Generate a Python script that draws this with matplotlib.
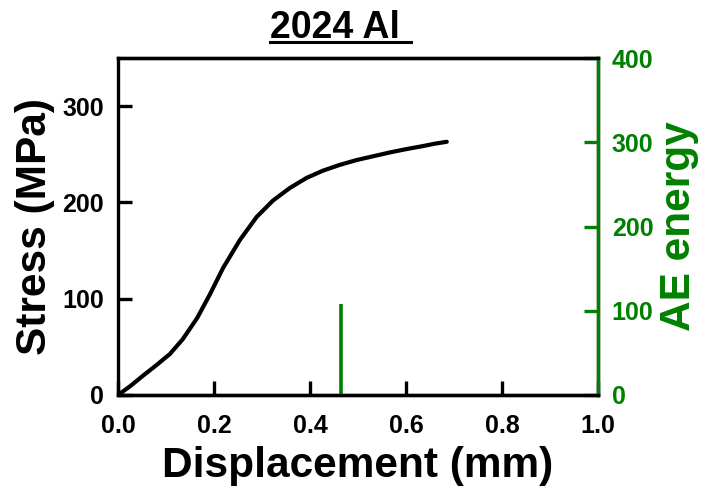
import matplotlib
matplotlib.use("Agg")
import matplotlib.pyplot as plt
from matplotlib.lines import Line2D

plt.rcParams['font.family'] = ['Liberation Sans', 'DejaVu Sans']
plt.rcParams['font.weight'] = 'bold'

# Stress-displacement curve (mm, MPa)
displacement = [0.0, 0.025, 0.052, 0.08, 0.108, 0.135, 0.165, 0.192, 0.219, 0.254,
                0.289, 0.323, 0.358, 0.393, 0.427, 0.462, 0.497, 0.532, 0.567,
                0.602, 0.636, 0.66, 0.685]
stress = [0.0, 9, 20, 31, 42.5, 58, 80, 105, 132, 161,
          185, 202, 215, 225.5, 233, 239, 244, 248, 252,
          255.5, 258.6, 261, 263]

# Acoustic emission event
ae_position = [0.465]
ae_energy = [108]

title_text = "2024 Al"
green = "#008000"

fig = plt.figure(figsize=(7.04, 4.9), dpi=100)
ax = fig.add_axes([0.1676, 0.1939, 0.6818, 0.6877])

ax.plot(displacement, stress, color='black', lw=3.0,
        solid_capstyle='round', solid_joinstyle='round')
ax.set_xlim(0, 1.0)
ax.set_ylim(0, 350)
ax.set_xticks([0.0, 0.2, 0.4, 0.6, 0.8, 1.0])
ax.set_xticklabels(["0.0", "0.2", "0.4", "0.6", "0.8", "1.0"])
ax.set_yticks([0, 100, 200, 300])

ax2 = ax.twinx()
ax2.vlines(ae_position, 0, ae_energy, color=green, lw=2.6)
ax2.set_ylim(0, 400)
ax2.set_yticks([0, 100, 200, 300, 400])

for a in (ax, ax2):
    for s in a.spines.values():
        s.set_linewidth(2.4)
ax2.spines['right'].set_color(green)
ax2.spines['left'].set_visible(False)
ax2.spines['top'].set_color('black')
ax2.spines['bottom'].set_color('black')

ax.tick_params(axis='both', direction='in', length=10, width=2.4, labelsize=18)
ax.tick_params(axis='x', pad=14, top=False)
ax.tick_params(axis='y', pad=10)
ax2.tick_params(axis='y', direction='in', length=10, width=2.4,
                labelsize=18, pad=10, colors=green)

for lab in ax.get_xticklabels() + ax.get_yticklabels() + ax2.get_yticklabels():
    lab.set_fontweight('bold')

ax.set_xlabel("Displacement (mm)", fontsize=30.5, fontweight='bold', labelpad=5.5)
ax.set_ylabel("Stress (MPa)", fontsize=30.5, fontweight='bold', labelpad=5)
ax2.set_ylabel("AE energy", fontsize=30.5, fontweight='bold', color=green, labelpad=4)

t = fig.text(334.5 / 704, 1 - 37.7 / 490, title_text, ha='center', va='baseline',
             fontsize=27, fontweight='bold')
fig.canvas.draw()
bb = t.get_window_extent()
x0 = bb.x0 / fig.bbox.width
x1 = (bb.x1 + 12) / fig.bbox.width
yl = 1 - 42.5 / 490
fig.add_artist(Line2D([x0, x1], [yl, yl], transform=fig.transFigure,
                      color='black', lw=2.2))

fig.savefig("out.png", dpi=100)
